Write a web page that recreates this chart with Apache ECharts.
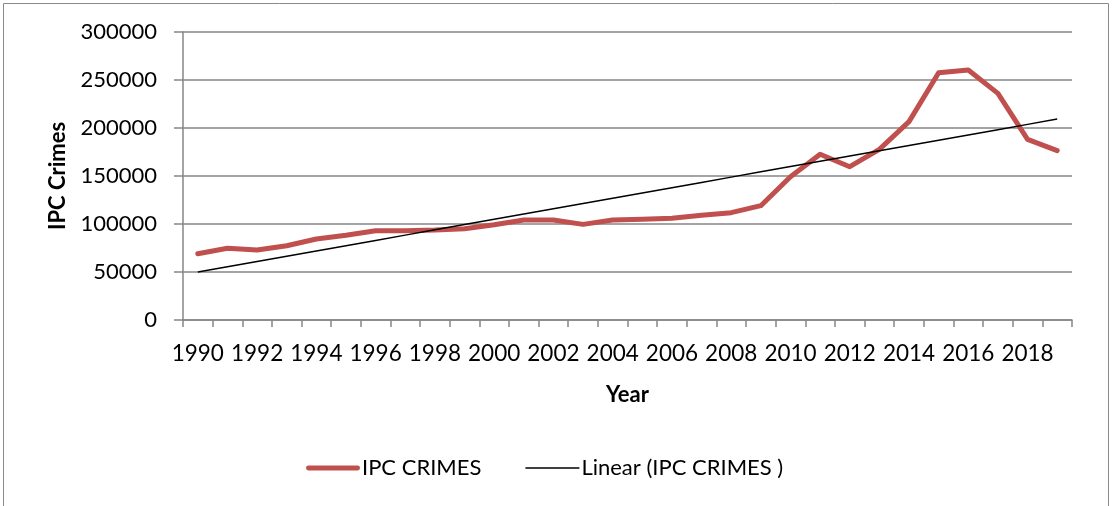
<!DOCTYPE html>
<html>
<head>
<meta charset="utf-8">
<script src="https://cdn.jsdelivr.net/npm/echarts@6/dist/echarts.min.js"></script>
<style>
html,body{margin:0;padding:0;background:#fff;}
#c{width:1112px;height:506px;}
</style>
</head>
<body>
<div id="c"></div>
<script>
const years = [1990,1991,1992,1993,1994,1995,1996,1997,1998,1999,2000,2001,2002,2003,2004,2005,2006,2007,2008,2009,2010,2011,2012,2013,2014,2015,2016,2017,2018,2019];
const ipcCrimes = [69000,74700,72900,77400,84400,88200,93000,93000,93700,95100,99300,104200,104200,99600,104200,104900,105900,109000,111800,119100,149300,172600,159700,177800,206600,257600,260400,236100,188200,176400];
const yTicks = [0,50000,100000,150000,200000,250000,300000];
const seriesName = 'IPC CRIMES';
const trendName = 'Linear (IPC CRIMES )';

// Excel-style linear trendline (least squares over category index)
const n = ipcCrimes.length;
let sx=0, sy=0, sxy=0, sxx=0;
ipcCrimes.forEach((v,i)=>{sx+=i;sy+=v;sxy+=i*v;sxx+=i*i;});
const slope = (n*sxy - sx*sy)/(n*sxx - sx*sx);
const intercept = (sy - slope*sx)/n;
const trend = ipcCrimes.map((v,i)=>intercept + slope*i);

const font = 'Lato, "Open Sans", sans-serif';
const chart = echarts.init(document.getElementById('c'));
chart.setOption({
  animation:false,
  backgroundColor:'#fff',
  textStyle:{fontFamily:font},
  graphic:[{type:'rect',shape:{x:3.5,y:3.5,width:1105,height:520},style:{fill:'none',stroke:'#8a8a8a',lineWidth:1},silent:true}],
  grid:{left:183,right:40,top:32,bottom:186,containLabel:false},
  legend:{
    left:306,bottom:27,padding:0,
    itemWidth:54,itemHeight:14,itemGap:44,
    symbolKeepAspect:true,
    textStyle:{fontFamily:font,fontSize:22,color:'#000',padding:[0,0,0,-3]},
    data:[
      {name:seriesName,icon:'path://M2.5,0H52.5A2.5,2.5,0,0,1,52.5,5H2.5A2.5,2.5,0,0,1,2.5,0Z',itemStyle:{color:'#C0504D'}},
      {name:trendName,icon:'path://M0,0H54V1.5H0Z',itemStyle:{color:'#000'}}
    ]
  },
  xAxis:{
    type:'category',
    data:years.map(String),
    boundaryGap:true,
    name:'Year',nameLocation:'middle',nameGap:64,
    nameTextStyle:{fontFamily:font,fontSize:22,fontWeight:'bold',color:'#000'},
    axisLine:{lineStyle:{color:'#868686',width:1.5}},
    axisTick:{show:true,interval:0,length:7,lineStyle:{color:'#868686',width:1.5}},
    axisLabel:{interval:1,fontFamily:font,fontSize:22.5,color:'#000',margin:22}
  },
  yAxis:{
    type:'value',min:0,max:300000,interval:50000,
    name:'IPC Crimes',nameLocation:'middle',nameGap:114,
    nameTextStyle:{fontFamily:font,fontSize:22,fontWeight:'bold',color:'#000'},
    axisLine:{show:true,lineStyle:{color:'#868686',width:1.5}},
    axisTick:{show:true,length:9,lineStyle:{color:'#868686',width:1.5}},
    axisLabel:{fontFamily:font,fontSize:22,color:'#000',margin:26,
      formatter:v=>yTicks.includes(v)?String(v):''},
    splitLine:{show:true,lineStyle:{color:'#868686',width:1.5}}
  },
  series:[
    {name:seriesName,type:'line',data:ipcCrimes,symbol:'none',
      lineStyle:{color:'#C0504D',width:5,cap:'round',join:'round'},itemStyle:{color:'#C0504D'},z:2},
    {name:trendName,type:'line',data:trend,symbol:'none',
      lineStyle:{color:'#000',width:1.5},itemStyle:{color:'#000'},z:3}
  ]
});
</script>
</body>
</html>
